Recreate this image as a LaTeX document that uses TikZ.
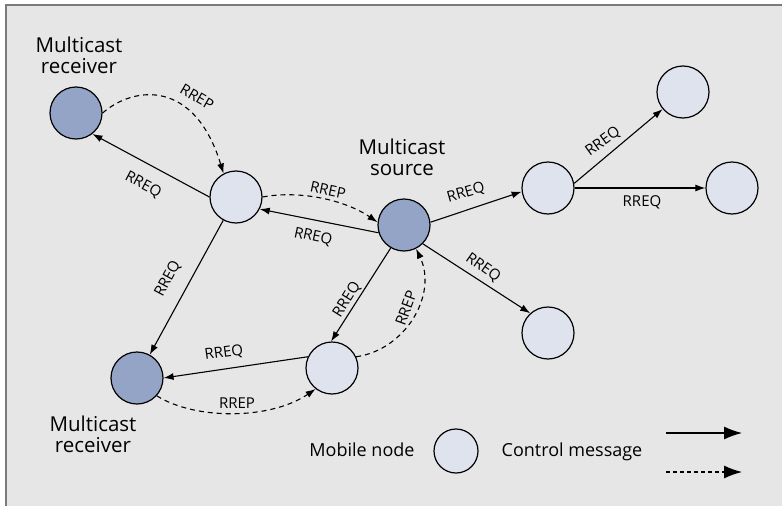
\documentclass[tikz,border=0pt]{standalone}
\usepackage{fontspec}
\setmainfont{Open Sans}
\usetikzlibrary{arrows.meta}
\definecolor{bg}{HTML}{E6E6E6}
\definecolor{frame}{HTML}{7A7A7A}
\definecolor{darkfill}{HTML}{93A4C6}
\definecolor{lightfill}{HTML}{DFE3EE}
\begin{document}
\begin{tikzpicture}[x=1pt,y=1pt,
  mnode/.style={circle,draw=black,line width=1.2pt,fill=lightfill,minimum size=52pt,inner sep=0pt},
  rnode/.style={mnode,fill=darkfill},
  lbl/.style={font=\fontsize{15}{17}\selectfont,inner sep=0pt},
  title/.style={font=\fontsize{20.5}{21}\selectfont,align=center,inner sep=0pt},
  legtext/.style={font=\fontsize{18}{20}\selectfont,inner sep=0pt},
  req/.style={line width=1.1pt,-{Latex[length=10pt,width=7pt]}},
  rep/.style={req,dash pattern=on 5pt off 4pt},
  legarrow/.style={line width=1.1pt,-{Latex[length=18pt,width=13pt]}}]
\useasboundingbox (0,0) rectangle (782,-506);
\fill[white] (0,0) rectangle (782,-506);
\fill[bg] (6,-5) rectangle (782,-506);
\draw[frame,line width=1.6pt] (6,-506) -- (6,-5) -- (782,-5);

% nodes
\node[rnode] (R1) at (76,-113) {};
\node[mnode] (N1) at (236,-197) {};
\node[rnode] (S) at (404,-225) {};
\node[mnode] (N2) at (548,-188) {};
\node[mnode] (N3) at (683,-92) {};
\node[mnode] (N4) at (732,-188) {};
\node[mnode] (N5) at (548,-333) {};
\node[rnode] (R2) at (137,-378) {};
\node[mnode] (N6) at (332,-368) {};

% titles
\node[title] (t1) at (79,-55) {Multicast\\receiver};
\node[title] (t2) at (402,-157) {Multicast\\source};
\node[title] (t3) at (93,-434) {Multicast\\receiver};

% RREQ edges
\draw[req] (N1.west) -- (R1.-52);
\draw[req] (S.197) -- (N1.-27);
\draw[req] (N1) -- (R2);
\draw[req] (S.240) -- (N6.92);
\draw[req] (N6.155) -- (R2.east);
\draw[req] (S.6) -- (N2.188);
\draw[req] (N2.10) -- (N3.220);
\draw[req] (N2.east) -- (N4.west);
\draw[req] (S.-45) -- (N5.132);

% RREP edges
\draw[rep] (R1.east) .. controls (135,-85) and (195,-80) .. (N1.118);
\draw[rep] (N1.east) .. controls (300,-190) and (345,-200) .. (S.174);
\draw[rep] (R2.-42) .. controls (195,-420) and (270,-420) .. (N6.232);
\draw[rep] (N6.25) .. controls (405,-350) and (438,-295) .. (S.-63);

% labels
\node[lbl,rotate=-28] (l1) at (143,-185) {RREQ};
\node[lbl,rotate=-30] (l2) at (197,-97) {RREP};
\node[lbl,rotate=-12] (l3) at (328,-190) {RREP};
\node[lbl,rotate=-12] (l4) at (313,-237) {RREQ};
\node[lbl,rotate=62] (l5) at (168,-279) {RREQ};
\node[lbl,rotate=58] (l6) at (347,-300) {RREQ};
\node[lbl,rotate=70] (l7) at (406,-308) {RREP};
\node[lbl,rotate=8] (l8) at (224,-353) {RREQ};
\node[lbl] (l9) at (237,-403) {RREP};
\node[lbl,rotate=16] (l10) at (466,-193) {RREQ};
\node[lbl,rotate=36] (l11) at (603,-142) {RREQ};
\node[lbl] (l12) at (642,-202) {RREQ};
\node[lbl,rotate=-35] (l13) at (483,-268) {RREQ};

% legend
\node[legtext] (lm) at (362,-450) {Mobile node};
\node[mnode,minimum size=44pt] (L) at (456,-451) {};
\node[legtext] (lc) at (572,-452) {Control message};
\coordinate (a1) at (666,-433);
\coordinate (a2) at (742,-433);
\coordinate (b1) at (666,-472);
\coordinate (b2) at (742,-472);
\draw[legarrow] (a1) -- (a2);
\draw[legarrow,dash pattern=on 4pt off 3pt] (b1) -- (b2);
\end{tikzpicture}
\end{document}
